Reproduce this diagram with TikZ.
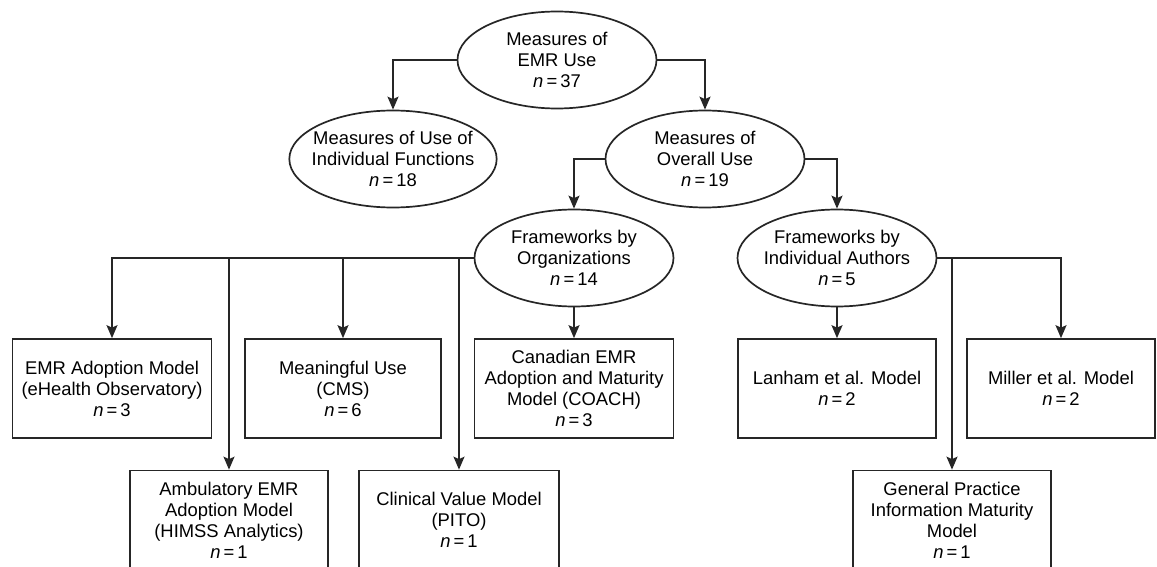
\documentclass[tikz,border=0pt]{standalone}
\usepackage{fontspec}
\setmainfont{Liberation Sans}
\usetikzlibrary{positioning,shapes.geometric,arrows.meta}
\newcommand{\ncount}[1]{\textit{n}\,=\,#1}

\begin{document}
\begin{tikzpicture}[x=1pt,y=-1pt,on grid,line width=1.7pt,draw=black!85,
    >={Stealth[length=13pt,width=11pt,inset=2.5pt]},
    font=\fontsize{18.4}{21}\selectfont]
    \tikzset{oval/.style={draw,ellipse,align=center,inner xsep=-8pt,inner ysep=0pt,minimum width=199pt,minimum height=97pt}}
    \tikzset{framebox/.style={draw,rectangle,align=center,inner sep=0pt,minimum width=199pt,minimum height=99pt}}
    \useasboundingbox (0,0) rectangle (1157,567);
    \clip (0,0) rectangle (1157,567);
    % ellipses
    \node[oval] (emruse) at (557,60) {Measures of\\EMR Use\\\ncount{37}};
    \node[oval] (funcs) [below left=99pt and 164pt of emruse] {Measures of Use of\\Individual Functions\\\ncount{18}};
    \node[oval] (overall) [below right=99pt and 148pt of emruse] {Measures of\\Overall Use\\\ncount{19}};
    \node[oval] (orgs) [below left=99pt and 131pt of overall] {Frameworks by\\Organizations\\\ncount{14}};
    \node[oval] (authors) [below right=99pt and 132pt of overall] {Frameworks by\\Individual Authors\\\ncount{5}};
    % boxes, first row
    \node[framebox] (coach) [below=130.5pt of orgs] {Canadian EMR\\Adoption and Maturity\\Model (COACH)\\\ncount{3}};
    \node[framebox,minimum width=196pt] (cms) [left=231pt of coach] {Meaningful Use\\(CMS)\\\ncount{6}};
    \node[framebox] (ehealth) [left=231pt of cms] {EMR Adoption Model\\(eHealth Observatory)\\\ncount{3}};
    \node[framebox,minimum width=198pt] (lanham) [below=130.5pt of authors] {Lanham et al. Model\\\ncount{2}};
    \node[framebox,minimum width=188pt] (miller) [right=224pt of lanham] {Miller et al. Model\\\ncount{2}};
    % boxes, second row
    \node[framebox,minimum width=198pt] (himss) [below left=131.5pt and 114pt of cms] {Ambulatory EMR\\Adoption Model\\(HIMSS Analytics)\\\ncount{1}};
    \node[framebox,minimum width=200pt] (pito) [right=230pt of himss] {Clinical Value Model\\(PITO)\\\ncount{1}};
    \node[framebox,minimum width=198pt] (gpimm) [below right=131.5pt and 115pt of lanham] {General Practice\\Information Maturity\\Model\\\ncount{1}};
    % connectors
    \draw[->] (emruse.west) -| (funcs.north);
    \draw[->] (emruse.east) -| (overall.north);
    \draw[->] (overall.west) -| (orgs.north);
    \draw[->] (overall.east) -| (authors.north);
    \draw[->] (orgs.west) -| (ehealth.north);
    \draw[->] (orgs.west) -| (cms.north);
    \draw[->] (orgs.west) -| (himss.north);
    \draw[->] (orgs.west) -| (pito.north);
    \draw[->] (orgs.south) -- (coach.north);
    \draw[->] (authors.south) -- (lanham.north);
    \draw[->] (authors.east) -| (miller.north);
    \draw[->] (authors.east) -| (gpimm.north);
\end{tikzpicture}
\end{document}
